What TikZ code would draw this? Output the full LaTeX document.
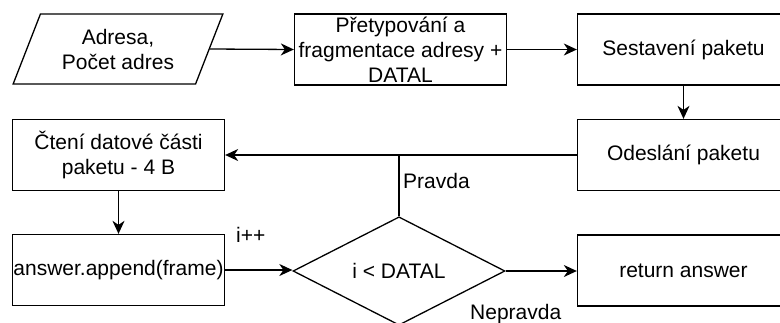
\documentclass[tikz,border=0pt]{standalone}
\usepackage{fontspec}
\setmainfont{Liberation Sans}
\usetikzlibrary{shapes.geometric,arrows.meta}

\tikzset{
  base/.style={draw=black, line width=1.3pt, fill=white, inner sep=0pt,
    font=\fontsize{21}{25}\selectfont, align=center},
  procbox/.style={base, rectangle, minimum width=212pt, minimum height=71pt},
  iobox/.style={base, trapezium, trapezium left angle=64, trapezium right angle=116,
    trapezium stretches=true, minimum width=210pt, minimum height=70pt},
  decision/.style={base, diamond, minimum width=212pt, minimum height=108pt},
  flow/.style={line width=1.3pt, -{Stealth[length=13pt,width=12pt,inset=4pt]}},
  plain/.style={line width=1.3pt},
  tag/.style={font=\fontsize{21}{25}\selectfont, inner sep=0pt}
}

\begin{document}
\begin{tikzpicture}[x=1pt,y=-1pt]
  \useasboundingbox (0,0) rectangle (780,322);
  \clip (0,0) rectangle (780,322);

  % top row
  \node[iobox]   (input)  at (118,49)    {Adresa,\\Počet adres};
  \node[procbox] (cast)   at (400.5,49.5) {Přetypování a\\fragmentace adresy +\\DATAL};
  \node[procbox] (build)  at (683.5,49.5) {Sestavení paketu};

  % middle row
  \node[procbox] (send)   at (683.5,155) {Odeslání paketu};
  \node[procbox] (read)   at (118.5,155) {Čtení datové části\\paketu - 4 B};

  % bottom row
  \node[procbox] (append) at (118.5,270) {answer.append(frame)};
  \node[decision] (cond)  at (399,271)   {i < DATAL};
  \node[procbox] (ret)    at (683.5,270.5) {return answer};

  % connectors
  \draw[flow] (input.east) -- (cast.west);
  \draw[flow] (cast.east) -- (build.west);
  \draw[flow] (build.south) -- (send.north);
  \draw[flow] (send.west) -- (send.west -| read.east);
  \coordinate (join) at (cond.north |- send.west);
  \draw[plain] (cond.north) -- (join);
  \draw[flow] (read.south) -- (append.north);
  \draw[flow] (append.east) -- (append.east -| cond.west);
  \draw[flow] (cond.east) -- (cond.east -| ret.west);

  % labels
  \node[tag, anchor=base west] (yes)  at (403,188) {Pravda};
  \node[tag, anchor=base west] (no)   at (470,319) {Nepravda};
  \node[tag, anchor=base west] (incr) at (236,242) {i++};
\end{tikzpicture}
\end{document}
